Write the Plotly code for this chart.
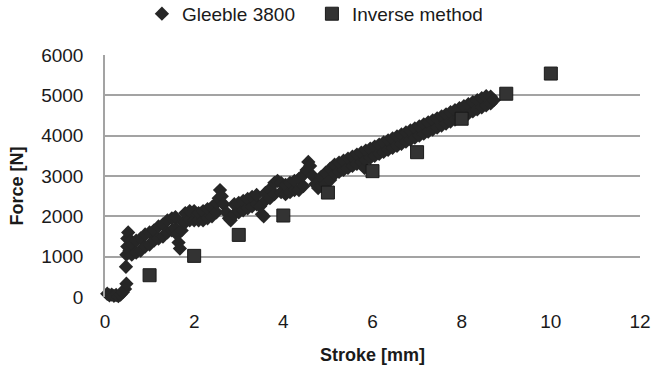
import plotly.graph_objects as go

# Inverse method (squares)
inverse_stroke = [1, 2, 3, 4, 5, 6, 7, 8, 9, 10]
inverse_force = [540, 1020, 1540, 2020, 2590, 3120, 3590, 4420, 5040, 5540]

gleeble_stroke = [
    0.05, 0.1, 0.15, 0.2, 0.25, 0.3, 0.35, 0.4, 0.45, 0.48,
    0.47,
    0.48, 0.5, 0.5, 0.52, 0.55, 0.58, 0.6, 0.62,
    0.7, 0.7, 0.8, 0.8, 0.9, 0.9, 1.0, 1.0, 1.1, 1.1, 1.2, 1.2, 1.3, 1.3,
    1.4, 1.4, 1.5, 1.5, 1.58, 1.58,
    1.62, 1.65, 1.68, 1.72, 1.75,
    1.8, 1.8, 1.9, 1.9, 2.0, 2.0, 2.1, 2.1, 2.2, 2.2, 2.3, 2.3, 2.4, 2.4, 2.5, 2.5,
    2.55, 2.58, 2.62, 2.66,
    2.72, 2.78, 2.82,
    2.9, 2.9, 3.0, 3.0, 3.1, 3.1, 3.2, 3.2, 3.3, 3.3, 3.4, 3.4,
    3.48, 3.52, 3.56,
    3.6, 3.6, 3.7, 3.7, 3.8, 3.8, 3.87,
    3.95, 3.95, 4.05, 4.05, 4.15, 4.15, 4.25, 4.25, 4.35, 4.35, 4.45, 4.45,
    4.52, 4.56, 4.6,
    4.66, 4.72, 4.78,
    4.85, 4.85, 4.95, 4.95, 5.05, 5.05, 5.15, 5.15, 5.25, 5.25, 5.35, 5.35,
    5.45, 5.45, 5.55, 5.55, 5.65, 5.65, 5.75, 5.75, 5.82,
    5.85, 5.85, 5.95, 5.95, 6.05, 6.05, 6.15, 6.15, 6.25, 6.25, 6.35, 6.35,
    6.45, 6.45, 6.55, 6.55, 6.65, 6.65, 6.75, 6.75, 6.85, 6.85, 6.95, 6.95,
    7.05, 7.05, 7.15, 7.15, 7.25, 7.25, 7.35, 7.35, 7.45, 7.45, 7.55, 7.55,
    7.65, 7.65, 7.75, 7.75, 7.85, 7.85, 7.95, 7.95, 8.05, 8.05, 8.15, 8.15,
    8.25, 8.25, 8.35, 8.35, 8.45, 8.45, 8.55, 8.55, 8.65, 8.65, 8.72,
]
gleeble_force = [
    80, 40, 60, 30, 50, 20, 60, 120, 200, 330,
    750,
    1050, 1250, 1450, 1600, 1150, 1400, 1050, 1300,
    1100, 1400, 1150, 1450, 1250, 1550, 1300, 1600, 1400, 1650, 1450, 1750, 1500, 1800,
    1600, 1900, 1650, 1950, 1700, 1980,
    1550, 1350, 1200, 1650, 1850,
    1850, 2080, 1900, 2130, 1900, 2130, 1900, 2080, 1900, 2130, 1950, 2180, 2000, 2230, 2100, 2330,
    2450, 2650, 2500, 2300,
    2100, 1950, 1900,
    2050, 2300, 2100, 2330, 2150, 2380, 2200, 2430, 2250, 2480, 2300, 2530,
    2250, 2050, 2000,
    2400, 2580, 2450, 2680, 2550, 2830, 2880,
    2600, 2830, 2550, 2780, 2600, 2830, 2650, 2880, 2650, 2930, 2750, 3030,
    3150, 3350, 3250,
    3000, 2800, 2700,
    2750, 2980, 2800, 3080, 2900, 3180, 3050, 3280, 3100, 3330, 3150, 3380,
    3200, 3430, 3250, 3480, 3300, 3530, 3350, 3580, 3200,
    3400, 3630, 3450, 3680, 3500, 3730, 3550, 3780, 3600, 3830, 3650, 3880,
    3700, 3930, 3750, 3980, 3800, 4030, 3850, 4080, 3900, 4130, 3950, 4180,
    4000, 4230, 4050, 4280, 4100, 4330, 4150, 4380, 4200, 4430, 4250, 4480,
    4300, 4530, 4350, 4580, 4400, 4630, 4450, 4680, 4500, 4730, 4550, 4780,
    4600, 4830, 4650, 4880, 4700, 4930, 4750, 4980, 4800, 4970, 4880,
]

x_ticks = [0, 2, 4, 6, 8, 10, 12]
y_ticks = [0, 1000, 2000, 3000, 4000, 5000, 6000]

FONT = "Liberation Sans, Arial, sans-serif"
grid = "#a3a3a3"

fig = go.Figure()
fig.add_trace(go.Scatter(
    x=gleeble_stroke, y=gleeble_force, mode="markers", name="Gleeble 3800",
    marker=dict(symbol="diamond", size=11, color="#262626", line=dict(width=0)),
    cliponaxis=False,
))
fig.add_trace(go.Scatter(
    x=inverse_stroke, y=inverse_force, mode="markers", name="Inverse method",
    marker=dict(symbol="square", size=13, color="#333333", line=dict(width=1, color="#1a1a1a")),
    cliponaxis=False,
))

fig.update_layout(
    width=652, height=369,
    margin=dict(l=105, r=12, t=55, b=72, autoexpand=False),
    paper_bgcolor="white", plot_bgcolor="white",
    font=dict(family=FONT, size=19, color="#1a1a1a"),
    showlegend=True,
    legend=dict(orientation="h", x=0.069, xanchor="left", y=1.17, yanchor="middle",
                font=dict(size=19), itemwidth=30, entrywidth=125,
                entrywidthmode="pixels", bgcolor="rgba(0,0,0,0)"),
    xaxis=dict(range=[0, 12], tickvals=x_ticks, showgrid=False, zeroline=False,
               showline=False, ticks="", ticklabelstandoff=11,
               ticklabeloverflow="allow", tickfont=dict(size=19)),
    yaxis=dict(range=[0, 6000], tickvals=y_ticks, showgrid=True, gridcolor=grid,
               gridwidth=1.5, zeroline=False, showline=True, linecolor=grid,
               linewidth=1.5, ticks="", ticklabelstandoff=16,
               ticklabeloverflow="allow", tickfont=dict(size=19)),
    annotations=[
        dict(text="<b>Stroke [mm]</b>", xref="paper", yref="paper", x=0.5, y=-0.24,
             xanchor="center", yanchor="middle", showarrow=False, font=dict(size=18)),
        dict(text="<b>Force [N]</b>", xref="paper", yref="paper", x=-0.165, y=0.46,
             xanchor="center", yanchor="middle", showarrow=False, textangle=-90,
             font=dict(size=18)),
    ],
)

fig.write_html("out.html")
